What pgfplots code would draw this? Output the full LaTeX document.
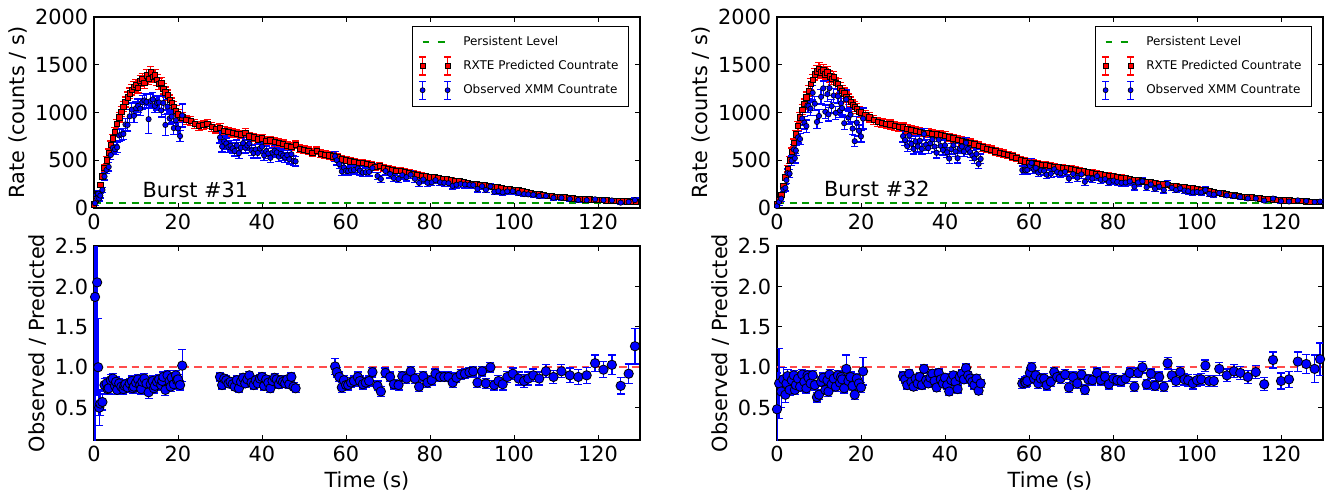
\documentclass[border=0pt]{standalone}
\usepackage{fontspec}
\setmainfont{DejaVu Sans}
\usepackage{pgfplots}
\usepackage{pgfplotstable}
\pgfplotsset{compat=1.18}

% ---------- Burst 31 ----------
\pgfplotstableread[row sep=\\]{t y e\\
0 40 12\\ 0.5 90 16\\ 1 150 20\\ 1.5 240 25\\ 2 330 29\\ 2.5 420 33\\ 3 500 36\\ 3.5 580 39\\ 4 660 41\\ 4.5 730 43\\
5 800 45\\ 5.5 880 47\\ 6 950 49\\ 6.5 1010 51\\ 7 1060 52\\ 7.5 1110 53\\ 8 1160 54\\ 8.5 1200 55\\ 9 1240 56\\ 9.5 1270 57\\
10 1290 57\\ 10.5 1260 57\\ 11 1330 58\\ 11.5 1350 59\\ 12 1310 58\\ 12.5 1390 60\\ 13 1350 59\\ 13.5 1420 60\\ 14 1370 59\\ 14.5 1390 60\\
15 1340 59\\ 15.5 1300 58\\ 16 1310 58\\ 16.5 1250 57\\ 17 1210 56\\ 17.5 1180 55\\ 18 1130 54\\ 18.5 1100 53\\ 19 1060 52\\ 19.5 1020 51\\
20 980 50\\ 21 950 49\\ 22 920 48\\ 23 910 48\\ 24 880 47\\ 25 860 47\\ 26 870 47\\ 27 880 47\\ 28 850 46\\ 29 830 46\\
30 840 46\\ 31 810 45\\ 32 800 45\\ 33 790 45\\ 34 780 44\\ 35 770 44\\ 36 790 44\\ 37 750 43\\ 38 740 43\\ 39 720 43\\
40 730 43\\ 41 700 42\\ 42 710 42\\ 43 690 42\\ 44 680 41\\ 45 670 41\\ 46 650 41\\ 47 640 40\\ 48 660 40\\ 49 620 40\\
50 610 39\\ 51 600 39\\ 52 580 38\\ 53 600 38\\ 54 570 38\\ 55 560 37\\ 56 550 37\\ 57 540 37\\ 58 530 36\\ 59 510 36\\
60 500 35\\ 61 490 35\\ 62 480 35\\ 63 470 34\\ 64 470 34\\ 65 460 34\\ 66 450 33\\ 67 430 33\\ 68 440 33\\ 69 420 32\\
70 410 32\\ 71 400 32\\ 72 390 31\\ 73 390 31\\ 74 380 31\\ 75 370 30\\ 76 360 30\\ 77 350 30\\ 78 340 29\\ 79 330 29\\
80 320 28\\ 81 320 28\\ 82 310 28\\ 83 300 27\\ 84 300 27\\ 85 290 27\\ 86 280 26\\ 87 280 26\\ 88 270 26\\ 89 260 25\\
90 255 25\\ 91 250 25\\ 92 240 24\\ 93 240 24\\ 94 230 24\\ 95 220 23\\ 96 215 23\\ 97 210 23\\ 98 200 22\\ 99 195 22\\
100 190 22\\ 101 185 21\\ 102 180 21\\ 103 170 21\\ 104 160 20\\ 105 150 20\\ 106 145 19\\ 107 140 19\\ 108 130 19\\ 109 125 18\\
110 118 18\\ 111 115 18\\ 112 110 17\\ 113 108 17\\ 114 100 17\\ 115 96 16\\ 116 94 16\\ 117 92 16\\ 118 90 16\\ 119 88 15\\
120 85 15\\ 121 84 15\\ 122 80 15\\ 123 78 15\\ 124 76 14\\ 125 74 14\\ 126 72 14\\ 127 70 14\\ 128 68 14\\ 129 66 14\\
}\PA

\pgfplotstableread[row sep=\\]{t y e\\
0.25 50 25\\ 0.75 100 35\\ 1 150 30\\ 1.25 100 25\\ 1.5 130 25\\ 2 190 28\\ 2.5 330 38\\ 3 400 42\\ 3.5 430 44\\ 4 555 50\\
4.5 630 54\\ 5 615 53\\ 5.5 635 54\\ 6 760 59\\ 6.5 770 60\\ 7 775 60\\ 7.5 875 64\\ 8 870 64\\ 8.5 960 68\\ 9 1030 70\\
9.5 965 68\\ 10 1045 71\\ 10.5 1070 72\\ 11 1040 71\\ 11.5 1107 73\\ 12 1127 74\\ 12.5 1112 73\\ 13 930 150\\ 13.5 1120 73\\ 14 1137 74\\
14.5 1070 72\\ 15 1100 73\\ 15.5 1105 73\\ 16 1022 70\\ 16.5 1100 73\\ 17 870 110\\ 17.5 1062 72\\ 18 938 67\\ 18.5 957 68\\ 19 837 64\\
19.5 918 67\\ 20 833 64\\ 20.5 753 60\\ 21 969 120\\
30 739 60\\ 30.5 644 56\\ 31 697 58\\ 31.5 676 57\\ 32 640 56\\ 32.5 652 56\\ 33 624 55\\ 33.5 597 54\\ 34 655 56\\ 34.5 574 53\\
35 631 55\\ 35.5 679 57\\ 36 632 55\\ 36.5 655 56\\ 37 675 57\\ 37.5 603 54\\ 38 577 53\\ 38.5 613 54\\ 39 576 53\\ 39.5 624 55\\
40 642 56\\ 40.5 551 52\\ 41 595 54\\ 41.5 571 53\\ 42 525 50\\ 42.5 581 53\\ 43 600 54\\ 43.5 582 53\\ 44 537 51\\ 44.5 567 52\\
45 549 52\\ 45.5 528 51\\ 46 553 52\\ 46.5 510 50\\ 47 563 52\\ 47.5 494 49\\ 48 488 49\\
57.4 541 51\\ 57.8 500 49\\ 58.4 459 47\\ 59 383 43\\ 59.5 424 45\\ 60 390 43\\ 60.5 386 43\\ 61.2 395 44\\ 61.9 399 44\\ 62.8 415 45\\
63.3 390 43\\ 64 371 42\\ 64.7 375 43\\ 65.5 378 43\\ 66.3 418 45\\ 67.5 335 40\\ 68.3 304 38\\ 69.4 387 43\\ 70.5 356 41\\ 71.4 313 39\\
72.5 304 38\\ 73.4 344 41\\ 74.4 323 40\\ 75.4 348 41\\ 76.4 306 38\\ 77.4 263 36\\ 78.4 299 38\\ 79.4 264 36\\ 80.4 269 36\\ 81.3 292 38\\
82.4 269 36\\ 83.4 264 36\\ 84.4 260 35\\ 85.4 232 34\\ 86.3 244 34\\ 87.3 252 35\\ 88.3 246 35\\ 89.4 243 34\\ 90.3 240 34\\ 91.3 200 31\\
92.4 228 33\\ 93.3 190 30\\ 94.4 226 33\\ 95.3 170 29\\ 96.3 177 29\\ 97.3 164 28\\ 98.4 174 29\\ 99.7 176 29\\ 101.1 158 28\\ 102.4 146 27\\
103.4 143 26\\ 104.6 139 26\\ 106 125 25\\ 107.6 127 25\\ 109.4 107 23\\ 111.3 107 23\\ 113.3 95 21\\ 115.3 84 20\\ 117.3 82 20\\ 119.3 91 21\\
121.3 81 20\\ 123.3 79 20\\ 125.4 56 17\\ 127.3 64 18\\ 128.8 83 20\\
}\OA

\pgfplotstableread[row sep=\\]{t r e\\
0.25 1.87 1.8\\ 0.75 2.05 1.4\\ 1 1.0 0.6\\ 1.25 0.5 0.22\\ 1.5 0.55 0.15\\ 2 0.57 0.1\\ 2.5 0.78 0.08\\ 3 0.80 0.07\\ 3.25 0.73 0.07\\ 3.5 0.74 0.07\\
4 0.84 0.07\\ 4.5 0.86 0.06\\ 5 0.77 0.06\\ 5.25 0.82 0.06\\ 5.5 0.72 0.06\\ 6 0.80 0.06\\ 6.5 0.76 0.06\\ 7 0.73 0.06\\ 7.25 0.77 0.06\\ 7.5 0.79 0.06\\
8 0.75 0.06\\ 8.5 0.80 0.06\\ 9 0.83 0.06\\ 9.25 0.74 0.06\\ 9.5 0.76 0.06\\ 10 0.81 0.06\\ 10.5 0.85 0.06\\ 11 0.78 0.06\\ 11.25 0.73 0.06\\ 11.5 0.82 0.06\\
12 0.86 0.06\\ 12.5 0.80 0.06\\ 13 0.69 0.08\\ 13.5 0.79 0.06\\ 14 0.83 0.06\\ 14.25 0.74 0.06\\ 14.5 0.77 0.06\\ 15 0.82 0.06\\ 15.5 0.85 0.06\\ 16 0.78 0.06\\
16.25 0.83 0.06\\ 16.5 0.88 0.06\\ 17 0.72 0.07\\ 17.5 0.90 0.06\\ 18 0.83 0.06\\ 18.25 0.76 0.06\\ 18.5 0.87 0.06\\ 19 0.79 0.06\\ 19.5 0.90 0.06\\ 19.75 0.84 0.06\\
20 0.85 0.06\\ 20.5 0.78 0.06\\ 21 1.02 0.2\\
30 0.88 0.05\\ 30.5 0.78 0.05\\ 31 0.86 0.05\\ 31.5 0.84 0.05\\ 32 0.80 0.05\\ 32.5 0.82 0.05\\ 33 0.79 0.05\\ 33.5 0.76 0.05\\ 34 0.84 0.05\\ 34.5 0.74 0.05\\
35 0.82 0.05\\ 35.5 0.87 0.05\\ 36 0.80 0.05\\ 36.5 0.85 0.05\\ 37 0.90 0.05\\ 37.5 0.81 0.05\\ 38 0.78 0.05\\ 38.5 0.84 0.05\\ 39 0.80 0.05\\ 39.5 0.86 0.05\\
40 0.88 0.05\\ 40.5 0.77 0.05\\ 41 0.85 0.05\\ 41.5 0.81 0.05\\ 42 0.74 0.05\\ 42.5 0.83 0.05\\ 43 0.87 0.05\\ 43.5 0.85 0.05\\ 44 0.79 0.05\\ 44.5 0.84 0.05\\
45 0.82 0.05\\ 45.5 0.80 0.05\\ 46 0.85 0.05\\ 46.5 0.79 0.05\\ 47 0.88 0.05\\ 47.5 0.76 0.05\\ 48 0.74 0.05\\
57.4 1.01 0.1\\ 57.8 0.94 0.06\\ 58.4 0.88 0.06\\ 59 0.75 0.06\\ 59.5 0.84 0.06\\ 60 0.78 0.06\\ 60.5 0.78 0.06\\ 61.2 0.81 0.06\\ 61.9 0.83 0.06\\ 62.8 0.88 0.06\\
63.3 0.83 0.06\\ 64 0.79 0.06\\ 64.7 0.81 0.06\\ 65.5 0.83 0.06\\ 66.3 0.94 0.06\\ 67.5 0.77 0.06\\ 68.3 0.70 0.06\\ 69.4 0.93 0.06\\ 70.5 0.88 0.06\\ 71.4 0.79 0.06\\
72.5 0.78 0.06\\ 73.4 0.89 0.06\\ 74.4 0.86 0.06\\ 75.4 0.95 0.06\\ 76.4 0.86 0.06\\ 77.4 0.76 0.06\\ 78.4 0.89 0.06\\ 79.4 0.81 0.06\\ 80.4 0.84 0.06\\ 81.3 0.92 0.06\\
82.4 0.88 0.06\\ 83.4 0.88 0.06\\ 84.4 0.88 0.06\\ 85.4 0.81 0.06\\ 86.3 0.87 0.06\\ 87.3 0.91 0.06\\ 88.3 0.92 0.06\\ 89.4 0.94 0.06\\ 90.3 0.95 0.06\\ 91.3 0.81 0.06\\
92.4 0.95 0.06\\ 93.3 0.80 0.06\\ 94.4 1.00 0.06\\ 95.3 0.78 0.06\\ 96.3 0.83 0.07\\ 97.3 0.79 0.07\\ 98.4 0.88 0.07\\ 99.7 0.92 0.07\\ 101.1 0.86 0.08\\ 102.4 0.83 0.08\\
103.4 0.86 0.08\\ 104.6 0.90 0.08\\ 106 0.86 0.08\\ 107.6 0.95 0.08\\ 109.4 0.88 0.08\\ 111.3 0.95 0.08\\ 113.3 0.90 0.09\\ 115.3 0.88 0.09\\ 117.3 0.90 0.1\\ 119.3 1.05 0.1\\
121.3 0.97 0.1\\ 123.3 1.03 0.12\\ 125.4 0.77 0.1\\ 127.3 0.92 0.12\\ 128.8 1.26 0.22\\
}\RA

% ---------- Burst 32 ----------
\pgfplotstableread[row sep=\\]{t y e\\
0 40 12\\ 0.5 80 16\\ 1 140 20\\ 1.5 230 25\\ 2 320 29\\ 2.5 410 33\\ 3 500 36\\ 3.5 590 39\\ 4 680 42\\ 4.5 770 44\\
5 860 47\\ 5.5 950 49\\ 6 1030 51\\ 6.5 1090 53\\ 7 1160 54\\ 7.5 1230 56\\ 8 1300 57\\ 8.5 1340 58\\ 9 1400 60\\ 9.5 1430 60\\
10 1460 61\\ 10.5 1420 60\\ 11 1440 61\\ 11.5 1400 60\\ 12 1420 60\\ 12.5 1380 59\\ 13 1350 59\\ 13.5 1370 59\\ 14 1310 58\\ 14.5 1300 58\\
15 1260 57\\ 15.5 1230 56\\ 16 1200 55\\ 16.5 1160 54\\ 17 1140 54\\ 17.5 1110 53\\ 18 1080 52\\ 18.5 1060 52\\ 19 1040 51\\ 19.5 1010 51\\
20 1000 50\\ 21 970 49\\ 22 950 49\\ 23 920 48\\ 24 900 48\\ 25 890 47\\ 26 880 47\\ 27 875 47\\ 28 860 46\\ 29 850 46\\
30 845 46\\ 31 830 46\\ 32 820 45\\ 33 810 45\\ 34 800 45\\ 35 790 44\\ 36 785 44\\ 37 780 44\\ 38 770 44\\ 39 765 44\\
40 755 43\\ 41 740 43\\ 42 730 43\\ 43 715 42\\ 44 700 42\\ 45 690 42\\ 46 680 41\\ 47 665 41\\ 48 650 40\\ 49 635 40\\
50 620 39\\ 51 610 39\\ 52 595 39\\ 53 580 38\\ 54 570 38\\ 55 555 37\\ 56 540 37\\ 57 525 36\\ 58 500 35\\ 59 490 35\\
60 475 35\\ 61 470 34\\ 62 465 34\\ 63 455 34\\ 64 450 34\\ 65 440 33\\ 66 432 33\\ 67 425 33\\ 68 420 33\\ 69 415 32\\
70 410 32\\ 71 400 32\\ 72 392 31\\ 73 385 31\\ 74 375 31\\ 75 368 30\\ 76 360 30\\ 77 353 30\\ 78 345 29\\ 79 340 29\\
80 335 29\\ 81 325 28\\ 82 318 28\\ 83 310 28\\ 84 300 27\\ 85 295 27\\ 86 288 27\\ 87 280 26\\ 88 275 26\\ 89 268 26\\
90 262 25\\ 91 255 25\\ 92 248 25\\ 93 240 24\\ 94 235 24\\ 95 228 24\\ 96 220 23\\ 97 215 23\\ 98 210 23\\ 99 205 22\\
100 200 22\\ 101 192 22\\ 102 185 21\\ 103 178 21\\ 104 170 20\\ 105 162 20\\ 106 155 20\\ 107 148 19\\ 108 140 19\\ 109 133 18\\
110 126 18\\ 111 120 18\\ 112 115 17\\ 113 110 17\\ 114 105 17\\ 115 100 16\\ 116 97 16\\ 117 94 16\\ 118 91 15\\ 119 88 15\\
120 85 15\\ 121 82 15\\ 122 80 15\\ 123 77 14\\ 124 75 14\\ 125 72 14\\ 126 70 14\\ 127 67 14\\ 128 64 13\\ 129 62 13\\
}\PB

\pgfplotstableread[row sep=\\]{t y e\\
0 20 25\\ 0.5 64 35\\ 1 98 28\\ 1.5 196 30\\ 2 211 32\\ 2.25 292 37\\ 2.5 365 42\\ 3 360 42\\ 3.5 496 49\\ 4 612 54\\
4.25 522 50\\ 4.5 601 54\\ 5 740 60\\ 5.5 722 59\\ 6 937 67\\ 6.5 894 66\\ 7 858 64\\ 7.25 1075 72\\ 7.5 1070 72\\ 8 1040 71\\
8.5 1206 76\\ 9 1092 73\\ 9.5 901 66\\ 10 964 68\\ 10.5 1164 75\\ 11 1253 78\\ 11.5 1008 70\\ 12 1193 76\\ 12.25 980 69\\ 12.5 1256 78\\
13 1067 72\\ 13.5 1178 76\\ 14 996 69\\ 14.5 1170 75\\ 15 1021 70\\ 15.25 1096 73\\ 15.5 1046 71\\ 16 888 65\\ 16.5 1137 100\\ 17 946 68\\
17.5 977 69\\ 18 832 63\\ 18.5 700 58\\ 19 894 66\\ 19.5 808 62\\ 20 750 60\\ 20.5 936 110\\
30 752 60\\ 30.5 712 58\\ 31 647 56\\ 31.5 759 60\\ 32 672 57\\ 32.5 619 54\\ 33 697 58\\ 33.5 644 56\\ 34 704 58\\ 34.5 620 55\\
35 774 61\\ 35.5 662 57\\ 36 628 55\\ 36.5 680 57\\ 37 718 59\\ 37.5 643 56\\ 38 578 53\\ 38.5 714 59\\ 39 650 56\\ 39.5 608 54\\
40 657 56\\ 40.5 583 53\\ 41 518 50\\ 41.5 617 55\\ 42 657 56\\ 42.5 592 54\\ 43 522 50\\ 43.5 623 55\\ 44 644 56\\ 44.5 591 53\\
45 683 57\\ 45.5 617 55\\ 46 585 53\\ 46.5 551 52\\ 47 519 50\\ 47.5 566 52\\ 48 462 47\\ 48.5 514 50\\
58.4 397 44\\ 59 402 44\\ 59.2 394 44\\ 59.6 399 44\\ 60.2 441 46\\ 60.6 472 48\\ 61.2 403 44\\ 61.6 420 45\\ 62.2 370 42\\ 62.8 393 44\\
63.6 389 43\\ 64.2 349 41\\ 65.2 359 42\\ 66 406 44\\ 66.7 376 43\\ 67.5 363 42\\ 68.6 379 43\\ 69.5 309 39\\ 70.5 356 41\\ 71.5 317 39\\
72.5 353 41\\ 73.3 275 36\\ 74.1 318 39\\ 75.1 308 39\\ 76.2 334 40\\ 77.1 296 38\\ 78.1 303 38\\ 79 269 36\\ 80.1 287 37\\ 81 273 36\\
82 264 36\\ 83 267 36\\ 84 279 37\\ 85.1 223 33\\ 86 268 36\\ 87 280 37\\ 88 217 32\\ 89 247 35\\ 90 202 31\\ 91 224 33\\
92.1 188 30\\ 93 252 35\\ 94 212 32\\ 95 189 30\\ 96 207 32\\ 97 183 30\\ 97.9 176 29\\ 99 164 28\\ 100 168 29\\ 101 163 28\\
102 189 30\\ 102.9 148 27\\ 104 141 26\\ 105.3 157 28\\ 107.1 132 25\\ 108.8 127 25\\ 110.3 115 24\\ 112.1 100 22\\ 114 99 22\\ 116 77 19\\
118.1 99 22\\ 120 71 19\\ 121.9 68 18\\ 124 80 20\\ 126 73 19\\ 128 63 17\\ 129.3 67 18\\
}\OB

\pgfplotstableread[row sep=\\]{t r e\\
0 0.48 0.45\\ 0.5 0.80 0.43\\ 1 0.70 0.2\\ 1.5 0.85 0.15\\ 2 0.66 0.1\\ 2.25 0.80 0.09\\ 2.5 0.89 0.08\\ 3 0.72 0.07\\ 3.5 0.84 0.07\\ 4 0.90 0.06\\
4.25 0.72 0.06\\ 4.5 0.78 0.06\\ 5 0.86 0.06\\ 5.5 0.76 0.06\\ 6 0.91 0.06\\ 6.5 0.82 0.06\\ 7 0.74 0.06\\ 7.25 0.90 0.06\\ 7.5 0.87 0.06\\ 8 0.80 0.06\\
8.5 0.90 0.06\\ 9 0.78 0.06\\ 9.5 0.63 0.06\\ 10 0.66 0.06\\ 10.5 0.82 0.06\\ 11 0.87 0.06\\ 11.5 0.72 0.06\\ 12 0.84 0.06\\ 12.25 0.70 0.06\\ 12.5 0.91 0.06\\
13 0.79 0.06\\ 13.5 0.86 0.06\\ 14 0.76 0.06\\ 14.5 0.90 0.06\\ 15 0.81 0.06\\ 15.25 0.88 0.06\\ 15.5 0.85 0.06\\ 16 0.74 0.06\\ 16.5 0.98 0.17\\ 17 0.83 0.06\\
17.5 0.88 0.06\\ 18 0.77 0.06\\ 18.5 0.66 0.06\\ 19 0.86 0.06\\ 19.5 0.80 0.06\\ 20 0.75 0.06\\ 20.5 0.95 0.17\\
30 0.89 0.05\\ 30.5 0.85 0.05\\ 31 0.78 0.05\\ 31.5 0.92 0.05\\ 32 0.82 0.05\\ 32.5 0.76 0.05\\ 33 0.86 0.05\\ 33.5 0.80 0.05\\ 34 0.88 0.05\\ 34.5 0.78 0.05\\
35 0.98 0.05\\ 35.5 0.84 0.05\\ 36 0.80 0.05\\ 36.5 0.87 0.05\\ 37 0.92 0.05\\ 37.5 0.83 0.05\\ 38 0.75 0.05\\ 38.5 0.93 0.05\\ 39 0.85 0.05\\ 39.5 0.80 0.05\\
40 0.87 0.05\\ 40.5 0.78 0.05\\ 41 0.70 0.05\\ 41.5 0.84 0.05\\ 42 0.90 0.05\\ 42.5 0.82 0.05\\ 43 0.73 0.05\\ 43.5 0.88 0.05\\ 44 0.92 0.05\\ 44.5 0.85 0.05\\
45 0.99 0.05\\ 45.5 0.90 0.05\\ 46 0.86 0.05\\ 46.5 0.82 0.05\\ 47 0.78 0.05\\ 47.5 0.86 0.05\\ 48 0.71 0.05\\ 48.5 0.80 0.05\\
58.4 0.80 0.06\\ 59 0.82 0.06\\ 59.2 0.81 0.06\\ 59.6 0.83 0.06\\ 60.2 0.93 0.06\\ 60.6 1.00 0.06\\ 61.2 0.86 0.06\\ 61.6 0.90 0.06\\ 62.2 0.80 0.06\\ 62.8 0.86 0.06\\
63.6 0.86 0.06\\ 64.2 0.78 0.06\\ 65.2 0.82 0.06\\ 66 0.94 0.06\\ 66.7 0.88 0.06\\ 67.5 0.86 0.06\\ 68.6 0.91 0.06\\ 69.5 0.75 0.06\\ 70.5 0.88 0.06\\ 71.5 0.80 0.06\\
72.5 0.91 0.06\\ 73.3 0.72 0.06\\ 74.1 0.85 0.06\\ 75.1 0.84 0.06\\ 76.2 0.93 0.06\\ 77.1 0.84 0.06\\ 78.1 0.88 0.06\\ 79 0.79 0.06\\ 80.1 0.86 0.06\\ 81 0.84 0.06\\
82 0.83 0.06\\ 83 0.86 0.06\\ 84 0.93 0.06\\ 85.1 0.76 0.06\\ 86 0.93 0.06\\ 87 1.00 0.07\\ 88 0.79 0.06\\ 89 0.92 0.06\\ 90 0.77 0.06\\ 91 0.88 0.06\\
92.1 0.76 0.06\\ 93 1.05 0.07\\ 94 0.90 0.07\\ 95 0.83 0.07\\ 96 0.94 0.07\\ 97 0.85 0.07\\ 97.9 0.84 0.07\\ 99 0.80 0.07\\ 100 0.84 0.07\\ 101 0.85 0.07\\
102 1.02 0.07\\ 102.9 0.83 0.07\\ 104 0.83 0.07\\ 105.3 0.98 0.08\\ 107.1 0.90 0.08\\ 108.8 0.95 0.08\\ 110.3 0.93 0.08\\ 112.1 0.88 0.08\\ 114 0.94 0.08\\ 116 0.79 0.08\\
118.1 1.09 0.1\\ 120 0.83 0.1\\ 121.9 0.85 0.1\\ 124 1.07 0.12\\ 126 1.04 0.12\\ 128 0.98 0.17\\ 129.3 1.10 0.2\\
}\RB

\definecolor{pgreen}{rgb}{0,0.6,0}
\definecolor{rline}{rgb}{1,0.3,0.3}
\newcommand{\bigfont}{\fontsize{12.5}{15}\selectfont}

\pgfplotsset{
  base/.style={scale only axis, width=327.6pt, xmin=0, xmax=130, xtick={0,20,40,60,80,100,120},
    anchor=south west, axis line style={line width=0.7pt, black},
    every tick/.style={black, line width=0.6pt}, major tick length=3pt,
    tick label style={font=\bigfont},
    /pgf/number format/assume math mode=true, /pgf/number format/1000 sep={},
    scaled ticks=false},
  toppanel/.style={base, height=114.6pt, ymin=0, ymax=2000, ytick={0,500,1000,1500,2000},
    ylabel={Rate (counts / s)},
    every axis y label/.style={at={(axis description cs:-0.14,0.5)}, rotate=90, anchor=center, font=\bigfont},
    legend style={at={(axis description cs:1,1)}, anchor=north east, xshift=-6.6pt, yshift=-5.4pt,
      font=\fontsize{7.2}{8.6}\selectfont, draw=black, line width=0.6pt, inner xsep=4pt, inner ysep=4pt,
      row sep=3pt},
    legend cell align=left},
  botpanel/.style={base, height=116.4pt, ymin=0.1, ymax=2.5, ytick={0.5,1,1.5,2,2.5},
    yticklabel style={/pgf/number format/.cd, fixed, fixed zerofill, precision=1},
    xlabel={Time (s)}, ylabel={Observed / Predicted},
    every axis x label/.style={at={(axis description cs:0.5,0)}, anchor=center, yshift=-24.6pt, font=\bigfont},
    every axis y label/.style={at={(axis description cs:-0.103,0.5)}, rotate=90, anchor=center, font=\bigfont}},
  pred/.style={only marks, mark=square*, mark size=1.6pt, red,
    mark options={fill=red, draw=black, line width=0.4pt},
    /pgfplots/error bars/y dir=both, /pgfplots/error bars/y explicit,
    /pgfplots/error bars/error bar style={red, line width=0.8pt},
    /pgfplots/error bars/error mark options={rotate=90, red, mark size=2.2pt, line width=0.8pt}},
  obs/.style={only marks, mark=*, mark size=1.6pt, blue,
    mark options={fill=blue, draw=black, line width=0.4pt},
    /pgfplots/error bars/y dir=both, /pgfplots/error bars/y explicit,
    /pgfplots/error bars/error bar style={blue, line width=0.8pt},
    /pgfplots/error bars/error mark options={rotate=90, blue, mark size=2.2pt, line width=0.8pt}},
  rat/.style={only marks, mark=*, mark size=2.8pt, blue,
    mark options={fill=blue, draw=black, line width=0.5pt},
    /pgfplots/error bars/y dir=both, /pgfplots/error bars/y explicit,
    /pgfplots/error bars/error bar style={blue, line width=0.8pt},
    /pgfplots/error bars/error mark options={rotate=90, blue, mark size=2.4pt, line width=0.8pt}},
  legpers/.style={legend image code/.code={
    \path[draw=none, fill=none] (-2pt,-0.1pt) rectangle (22.4pt,0.1pt);
    \draw[pgreen, line width=1pt] (0pt,0pt) -- (4pt,0pt) (9pt,0pt) -- (13.2pt,0pt);}},
  legpred/.style={legend image code/.code={
    \path[draw=none, fill=none] (-2pt,-0.1pt) rectangle (22.4pt,0.1pt);
    \foreach \xx in {0pt,15pt}{
      \draw[red, line width=0.7pt] (\xx,-5.4pt) -- (\xx,5.4pt)
        ([xshift=-2pt]\xx,-5.4pt) -- ([xshift=2pt]\xx,-5.4pt)
        ([xshift=-2pt]\xx,5.4pt) -- ([xshift=2pt]\xx,5.4pt);
      \filldraw[fill=red, draw=black, line width=0.4pt] ([xshift=-1.5pt,yshift=-1.5pt]\xx,0pt) rectangle ([xshift=1.5pt,yshift=1.5pt]\xx,0pt);}}},
  legobs/.style={legend image code/.code={
    \path[draw=none, fill=none] (-2pt,-0.1pt) rectangle (22.4pt,0.1pt);
    \foreach \xx in {0pt,15pt}{
      \draw[blue, line width=0.7pt] (\xx,-5.4pt) -- (\xx,5.4pt)
        ([xshift=-2pt]\xx,-5.4pt) -- ([xshift=2pt]\xx,-5.4pt)
        ([xshift=-2pt]\xx,5.4pt) -- ([xshift=2pt]\xx,5.4pt);
      \filldraw[fill=blue, draw=black, line width=0.4pt] (\xx,0pt) circle (1.5pt);}}},
}

\begin{document}
\begin{tikzpicture}
\path[use as bounding box] (0,0) rectangle (802.8pt,297pt);

% ---- Burst 31 top ----
\begin{axis}[toppanel, at={(56.4pt,172.2pt)}]
\addlegendimage{legpers}\addlegendentry{Persistent Level}
\addlegendimage{legpred}\addlegendentry{RXTE Predicted Countrate}
\addlegendimage{legobs}\addlegendentry{Observed XMM Countrate}
\addplot[forget plot, pgreen, line width=0.9pt, dash pattern=on 4.2pt off 3.3pt] coordinates {(0,50) (130,50)};
\addplot[forget plot, pred] table[x=t, y=y, y error=e] {\PA};
\addplot[forget plot, obs] table[x=t, y=y, y error=e] {\OA};
\node[anchor=base west, font=\bigfont] at (axis cs:10.15,112) {Burst \#31};
\end{axis}

% ---- Burst 31 ratio ----
\begin{axis}[botpanel, at={(56.4pt,33pt)}]
\addplot[forget plot, rline, line width=1pt, dash pattern=on 4.5pt off 3pt] coordinates {(0,1) (130,1)};
\addplot[forget plot, rat] table[x=t, y=r, y error=e] {\RA};
\end{axis}

% ---- Burst 32 top ----
\begin{axis}[toppanel, at={(466.2pt,172.2pt)}]
\addlegendimage{legpers}\addlegendentry{Persistent Level}
\addlegendimage{legpred}\addlegendentry{RXTE Predicted Countrate}
\addlegendimage{legobs}\addlegendentry{Observed XMM Countrate}
\addplot[forget plot, pgreen, line width=0.9pt, dash pattern=on 4.2pt off 3.3pt] coordinates {(0,50) (130,50)};
\addplot[forget plot, pred] table[x=t, y=y, y error=e] {\PB};
\addplot[forget plot, obs] table[x=t, y=y, y error=e] {\OB};
\node[anchor=base west, font=\bigfont] at (axis cs:9.8,118) {Burst \#32};
\end{axis}

% ---- Burst 32 ratio ----
\begin{axis}[botpanel, at={(466.2pt,33pt)}]
\addplot[forget plot, rline, line width=1pt, dash pattern=on 4.5pt off 3pt] coordinates {(0,1) (130,1)};
\addplot[forget plot, rat] table[x=t, y=r, y error=e] {\RB};
\end{axis}
\end{tikzpicture}
\end{document}
